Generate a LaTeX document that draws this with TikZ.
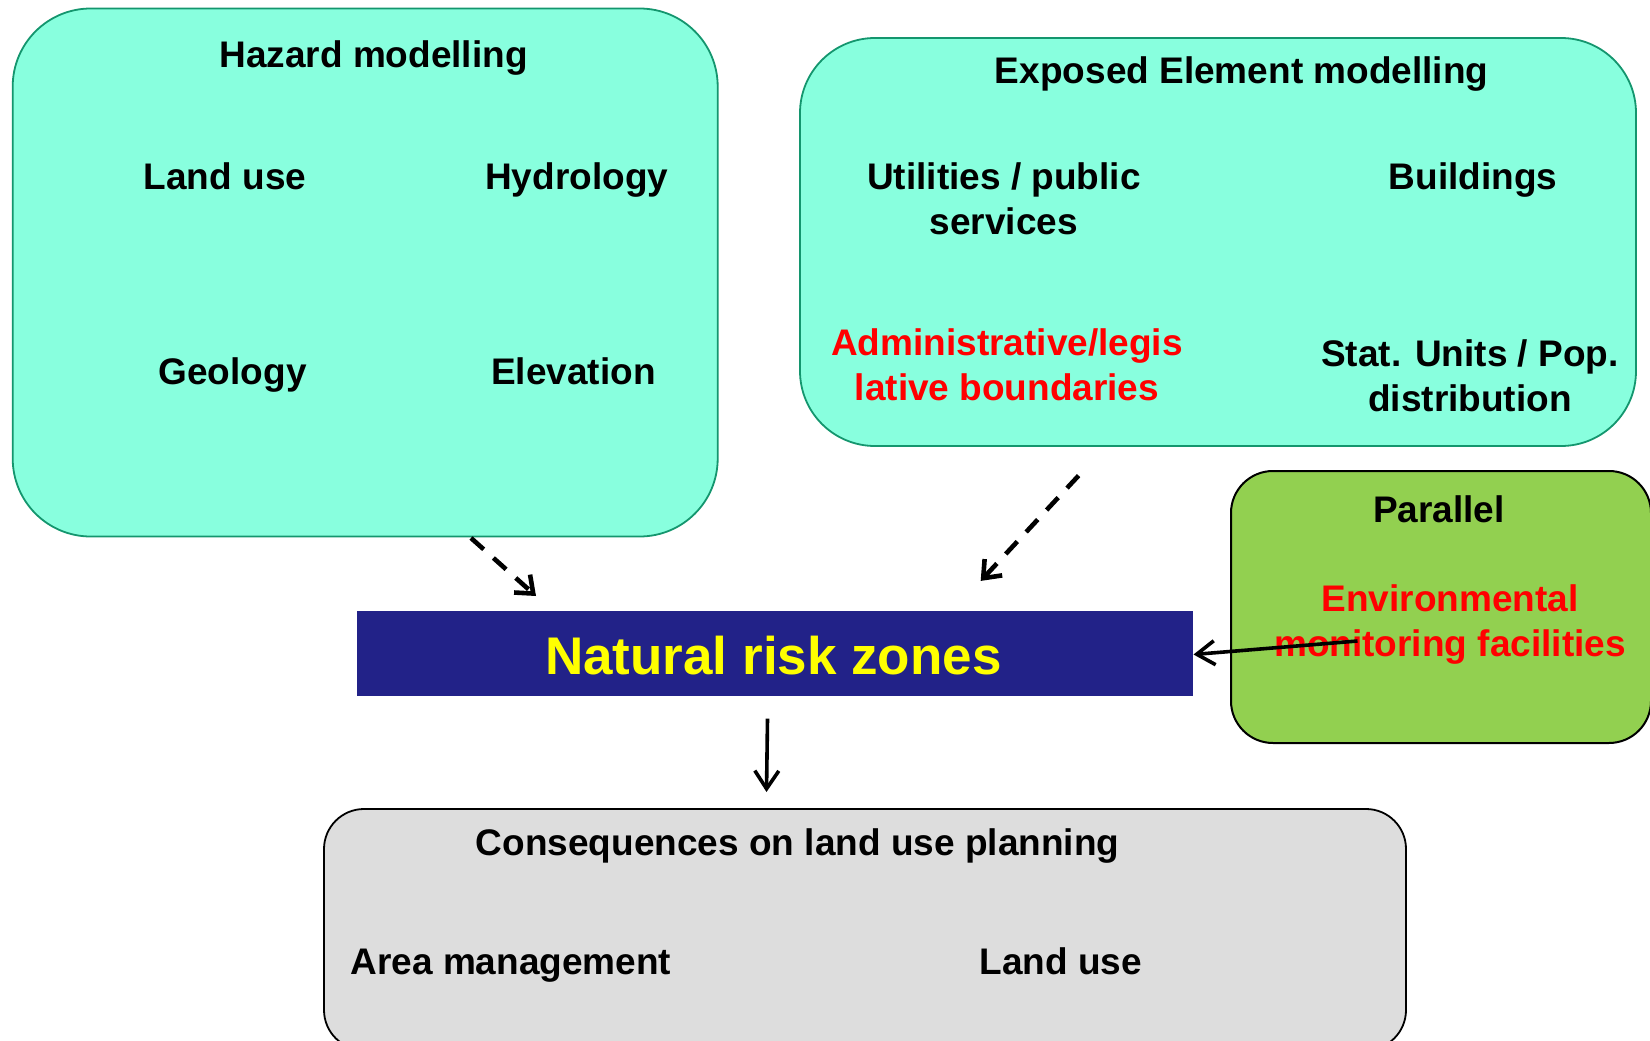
\documentclass[tikz,border=0pt]{standalone}
\usepackage{fontspec}
\setmainfont{Liberation Sans}
\usetikzlibrary{arrows.meta}
\definecolor{aqua}{RGB}{136,255,222}
\definecolor{aquaedge}{RGB}{20,150,110}
\definecolor{lgreen}{RGB}{146,208,80}
\definecolor{navy}{RGB}{34,34,136}
\definecolor{ltgray}{RGB}{221,221,221}
\definecolor{txtred}{RGB}{255,0,0}
\definecolor{txtyellow}{RGB}{255,255,0}
\tikzset{
  aquabox/.style={draw=aquaedge, line width=1.8pt, fill=aqua, rounded corners=78pt, inner sep=0pt},
  greenbox/.style={draw=black, line width=2pt, fill=lgreen, rounded corners=42pt, inner sep=0pt},
  graybox/.style={draw=black, line width=1.8pt, fill=ltgray, rounded corners=40pt, inner sep=0pt},
  bluebar/.style={fill=navy, inner sep=0pt},
  lbl/.style={anchor=base, font=\fontsize{37}{45}\selectfont\bfseries, align=center, inner sep=0pt},
  redlbl/.style={lbl, text=txtred},
  dasharrow/.style={line width=4.6pt, dash pattern=on 17pt off 13pt, -{Straight Barb[length=15pt,width=24pt,line width=4.6pt]}},
  solidarrow/.style={line width=3.6pt, -{Straight Barb[length=18pt,width=24pt,line width=3.6pt]}}
}
\begin{document}
\begin{tikzpicture}[x=1pt,y=-1pt]
\useasboundingbox (0,0) rectangle (1650,1041);
% boxes
\node[aquabox, minimum width=705pt, minimum height=528pt] (haz) at (365.2,272.5) {};
\node[aquabox, rounded corners=75pt, minimum width=836pt, minimum height=408pt] (exp) at (1218,242) {};
\node[greenbox, minimum width=420pt, minimum height=272pt] (par) at (1441,607) {};
\node[bluebar, minimum width=836.6pt, minimum height=84.2pt] (nrz) at (775,653.5) {};
\node[graybox, minimum width=1082pt, minimum height=241pt] (cons) at (865,929.5) {};
% hazard texts
\node[lbl] (hazt) at (373.6,68) {Hazard modelling};
\node[lbl] (landuse1) at (225,189) {Land use};
\node[lbl] (hydro) at (576.7,189) {Hydrology};
\node[lbl] (geol) at (232.6,384.5) {Geology};
\node[lbl] (elev) at (573.5,384.5) {Elevation};
% exposed texts
\node[lbl] (expt) at (1241.7,83.5) {Exposed Element modelling};
\node[lbl, anchor=north] (util) at (1003.9,162) {Utilities / public\\services};
\node[lbl] (build) at (1473.2,189) {Buildings};
\node[redlbl, anchor=north] (admin) at (1007,328) {Administrative/legis\\lative boundaries};
\node[lbl, anchor=north] (stat) at (1470,339) {Stat. Units / Pop.\\distribution};
% parallel texts
\node[lbl] (part) at (1439,522) {Parallel};
\node[redlbl, anchor=north] (envmon) at (1450,584) {Environmental\\monitoring facilities};
% natural risk zones
\node[anchor=base, inner sep=0pt, text=txtyellow, font=\fontsize{53}{60}\selectfont\bfseries] (nrzt) at (773.4,674.6) {Natural risk zones};
% consequences texts
\node[lbl] (const) at (797.6,855) {Consequences on land use planning};
\node[lbl] (areaman) at (510.9,974) {Area management};
\node[lbl] (landuse2) at (1060.7,974) {Land use};
% connector endpoints
\coordinate (h1) at (471,538);
\coordinate (h2) at (536,596);
\coordinate (e1) at (1078.6,475.6);
\coordinate (e2) at (980.7,580.9);
\coordinate (p1) at (1357.5,641);
\coordinate (n1) at (767.5,718.7);
\coordinate (c1) at (766.5,792);
% connectors
\draw[dasharrow] (h1) -- (h2);
\draw[dasharrow] (e1) -- (e2);
\draw[solidarrow] (p1) -- (nrz.east |- 0,654.5);
\draw[solidarrow] (n1) -- (c1);
\end{tikzpicture}
\end{document}
